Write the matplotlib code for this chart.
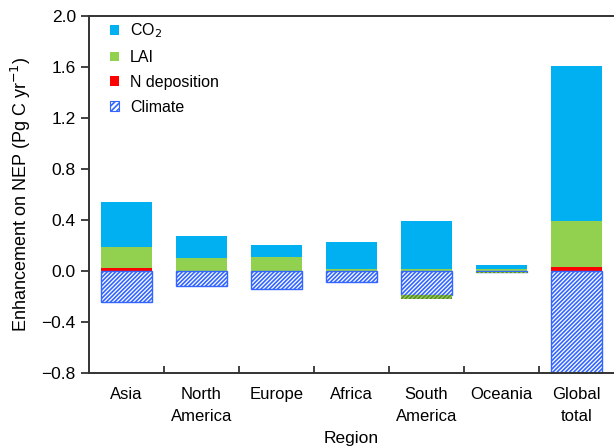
import numpy as np
import matplotlib.pyplot as plt
from matplotlib.patches import Patch

plt.rcParams['font.family'] = ['Liberation Sans', 'DejaVu Sans']
plt.rcParams['hatch.linewidth'] = 1.2

# Regional contributions to NEP enhancement (Pg C yr-1)
regions = ['Asia', 'North\nAmerica', 'Europe', 'Africa', 'South\nAmerica', 'Oceania', 'Global\ntotal']
n_dep = [0.025, 0.004, 0.004, 0.003, 0.003, 0.002, 0.035]
lai = [0.165, 0.098, 0.108, 0.015, 0.010, 0.012, 0.355]
co2 = [0.35, 0.17, 0.09, 0.21, 0.377, 0.036, 1.22]
climate = [-0.24, -0.12, -0.14, -0.087, -0.185, -0.008, -0.80]
lai_neg = [0.0, 0.0, 0.0, 0.0, -0.035, -0.006, 0.0]

c_co2 = '#00b0f0'
c_lai = '#92d050'
c_n = '#ff0000'
c_clim = '#3366ff'
hatch = '////////'

x = np.arange(len(regions))
w = 0.68

fig = plt.figure(figsize=(6.14, 4.47), dpi=100)
ax = fig.add_axes([0.145, 0.1655, 0.855, 0.7985])

# positive stack: N deposition, LAI, CO2
ax.bar(x, n_dep, w, color=c_n, linewidth=0)
ax.bar(x, lai, w, bottom=n_dep, color=c_lai, linewidth=0)
ax.bar(x, co2, w, bottom=np.add(n_dep, lai), color=c_co2, linewidth=0)

# negative stack: climate, then negative LAI below it
ax.bar(x, climate, w, color='white', edgecolor=c_clim, hatch=hatch, linewidth=1.0)
ax.bar(x, lai_neg, w, bottom=climate, color=c_lai, edgecolor='#5e8a2e',
       hatch=hatch, linewidth=0)

ax.set_xlim(-0.5, len(regions) - 0.5)
ax.set_ylim(-0.8, 2.0)
ax.set_yticks(np.arange(-0.8, 2.01, 0.4))
ax.set_yticklabels(['\u22120.8', '\u22120.4', '0.0', '0.4', '0.8', '1.2', '1.6', '2.0'])
ax.set_xticks(x)
ax.set_xticklabels(regions, linespacing=1.6)
ax.set_xticks(x[:-1] + 0.5, minor=True)
ax.tick_params(axis='x', which='major', length=0, pad=10, labelsize=12)
ax.tick_params(axis='x', which='minor', direction='in', length=5, width=1.3, color='#333333')
ax.tick_params(axis='y', direction='out', length=6, width=1.3, color='#333333', labelsize=12.5)

for side in ['left', 'bottom', 'top']:
    ax.spines[side].set_color('#333333')
    ax.spines[side].set_linewidth(1.4)
ax.spines['right'].set_visible(False)

ax.set_ylabel('Enhancement on NEP (Pg C yr$^{-1}$)', fontsize=13, labelpad=6)
ax.set_xlabel('Region', fontsize=12.5, labelpad=5)

handles = [
    Patch(facecolor=c_co2, edgecolor='none', label='CO$_2$'),
    Patch(facecolor=c_lai, edgecolor='none', label='LAI'),
    Patch(facecolor=c_n, edgecolor='none', label='N deposition'),
    Patch(facecolor='white', edgecolor=c_clim, hatch='//////', linewidth=0.8, label='Climate'),
]
ax.legend(handles=handles, loc='upper left', frameon=False, fontsize=11.5,
          handlelength=0.55, handleheight=0.55, handletextpad=0.7,
          labelspacing=0.62, borderpad=0, borderaxespad=0,
          bbox_to_anchor=(0.04, 0.985))

fig.savefig('out.png', dpi=100)
